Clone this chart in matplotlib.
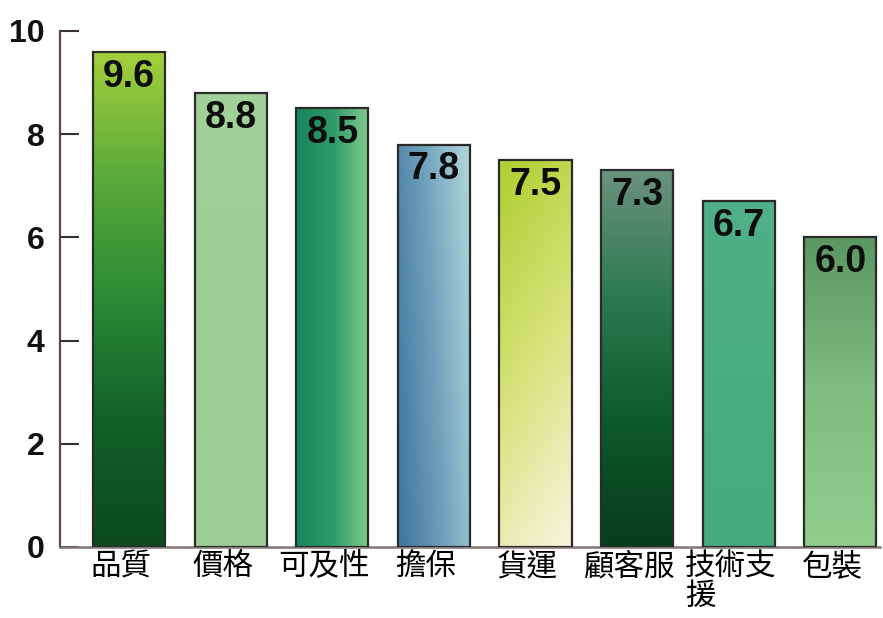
import numpy as np
import matplotlib
matplotlib.use("Agg")
import matplotlib.pyplot as plt
import matplotlib.transforms as mtransforms
from matplotlib.colors import LinearSegmentedColormap

# Survey scores by attribute
categories = ["品質", "價格", "可及性", "擔保", "貨運", "顧客服", "技術支\n援", "包裝"]
scores = [9.6, 8.8, 8.5, 7.8, 7.5, 7.3, 6.7, 6.0]
yticks = [0, 2, 4, 6, 8, 10]

# Fill style for each bar: (direction, colour stops from bottom/left to top/right)
fills = [
    ("v", ["#0a4a1e", "#12612a", "#2a8a34", "#5aab3a", "#a4cf3c"]),
    ("v", ["#9dd096", "#9ccf94", "#a2d29a"]),
    ("h", ["#17865c", "#2f9a6a", "#7cc98c"]),
    ("d", ["#3f76a0", "#6e9fba", "#aad1d8"]),
    ("dv", ["#f3f4d6", "#d6e37a", "#b2d036"]),
    ("v", ["#073c1c", "#0d5a2c", "#2c7a50", "#6a927e"]),
    ("v", ["#46ab80", "#4aae84", "#50b088"]),
    ("v", ["#92cd8e", "#7fbd80", "#5c9762"]),
]

plt.rcParams["font.family"] = ["Liberation Sans", "DejaVu Sans"]

fig = plt.figure(figsize=(8.83, 6.18), dpi=100)
ax = fig.add_axes([60 / 883, (618 - 547) / 618, 820 / 883, (547 - 31) / 618])

x = np.arange(len(categories))
width = 0.71
bars = ax.bar(x, scores, width=width, facecolor="none", edgecolor="#2b2b2b",
              linewidth=1.6, zorder=3)

n = 200
for rect, (mode, stops) in zip(bars, fills):
    cmap = LinearSegmentedColormap.from_list("bar", stops)
    if mode == "v":
        grad = np.linspace(0, 1, n)[:, None] * np.ones((1, 20))
    elif mode == "h":
        grad = np.ones((n, 1)) * np.linspace(0, 1, 20)[None, :]
    elif mode == "d":
        yy, xx = np.mgrid[0:1:complex(n), 0:1:complex(20)]
        grad = np.clip(0.8 * xx + 0.25 * yy, 0, 1)
    else:  # mostly vertical, lighter toward the lower right
        yy, xx = np.mgrid[0:1:complex(n), 0:1:complex(20)]
        grad = np.clip(0.85 * yy - 0.25 * xx + 0.2, 0, 1)
    x0, y0 = rect.get_x(), rect.get_y()
    w, h = rect.get_width(), rect.get_height()
    im = ax.imshow(grad, cmap=cmap, origin="lower", aspect="auto",
                   extent=(x0, x0 + w, y0, y0 + h), zorder=2,
                   interpolation="bilinear")
    im.set_clip_path(rect)

for xi, v in zip(x, scores):
    ax.annotate(f"{v:.1f}", xy=(xi, v), xytext=(0, -5), textcoords="offset points",
                ha="center", va="top", fontsize=27, fontweight="bold",
                color="#0d0d0d", zorder=4)

ax.set_xlim(-0.68, len(categories) - 1 + 0.39)
ax.set_ylim(0, 10)
ax.set_yticks(yticks)
ax.set_yticklabels([str(t) for t in yticks])
ax.tick_params(axis="y", direction="in", length=14, width=1.5, color="#3a3030",
               pad=11, labelsize=23, labelcolor="#111111")
for lab in ax.get_yticklabels():
    lab.set_fontweight("bold")

ax.set_xticks(x)
ax.set_xticklabels(categories, fontsize=22,
                   family=["Noto Sans CJK TC", "DejaVu Sans"],
                   multialignment="left", linespacing=0.95, color="#000000")
ax.tick_params(axis="x", length=0, pad=3)
shift = mtransforms.ScaledTranslation(-8 / 100, 0, fig.dpi_scale_trans)
for lab in ax.get_xticklabels():
    lab.set_transform(lab.get_transform() + shift)

ax.spines["top"].set_visible(False)
ax.spines["right"].set_visible(False)
ax.spines["left"].set_color("#5a4646")
ax.spines["left"].set_linewidth(1.6)
ax.spines["bottom"].set_color("#807474")
ax.spines["bottom"].set_linewidth(1.8)

fig.savefig("out.png", dpi=100)
